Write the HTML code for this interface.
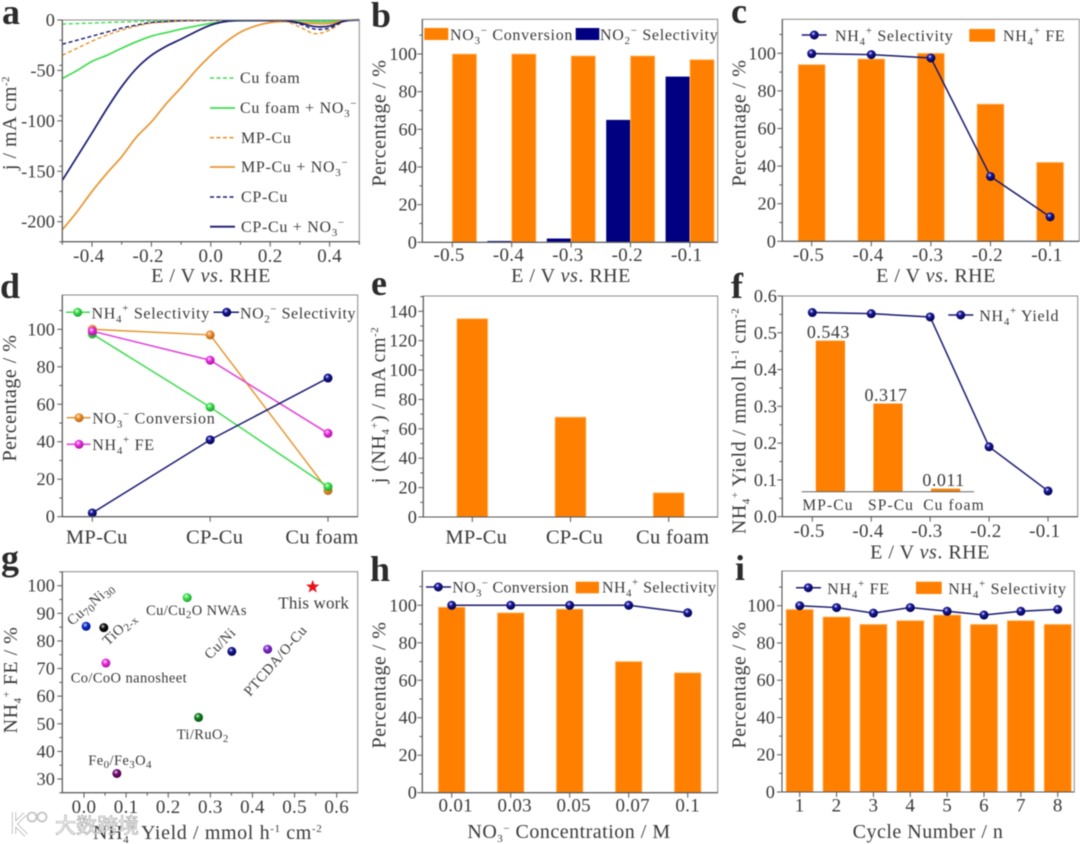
<!DOCTYPE html>
<html lang="en">
<head>
<meta charset="utf-8">
<title>Electrocatalysis multi-panel figure</title>
<style>
html,body{margin:0;padding:0;background:#fff;width:1080px;height:844px;overflow:hidden}
svg{display:block;filter:blur(.45px)}
text{font-family:"Liberation Serif","Noto Sans CJK SC",serif;fill:#3a3a3a;white-space:pre}
.letter{font-size:36px;font-weight:bold;fill:#2b2b2b}
.tick{font-size:19px;letter-spacing:.3px}
.ytick{font-size:18.3px;letter-spacing:.1px}
.ttl{font-size:20px;letter-spacing:.5px}
.leg{font-size:16px;letter-spacing:.7px}
.lab{font-size:14.5px;letter-spacing:.4px}
.s{font-size:11px}
.i{font-style:italic}
.wm{font-family:"Noto Sans CJK SC","Liberation Sans",sans-serif;font-size:21px;fill:#fff;fill-opacity:.9;stroke:#999;stroke-width:.6px}
</style>
</head>
<body>
<svg xmlns="http://www.w3.org/2000/svg" width="1080" height="844" viewBox="0 0 1080 844">
<defs>
<radialGradient id="s-navy" cx=".4" cy=".35" r=".65"><stop offset="0" stop-color="#dfe0ff"/><stop offset=".35" stop-color="#1a1a9a"/><stop offset="1" stop-color="#00004d"/></radialGradient>
<radialGradient id="s-green" cx=".4" cy=".35" r=".65"><stop offset="0" stop-color="#e8ffe8"/><stop offset=".4" stop-color="#3fe04f"/><stop offset="1" stop-color="#18a028"/></radialGradient>
<radialGradient id="s-orange" cx=".4" cy=".35" r=".65"><stop offset="0" stop-color="#ffeedd"/><stop offset=".4" stop-color="#ee9030"/><stop offset="1" stop-color="#b86010"/></radialGradient>
<radialGradient id="s-magenta" cx=".4" cy=".35" r=".65"><stop offset="0" stop-color="#ffe8ff"/><stop offset=".4" stop-color="#ee30e0"/><stop offset="1" stop-color="#a810a0"/></radialGradient>
<radialGradient id="s-blue" cx=".4" cy=".35" r=".65"><stop offset="0" stop-color="#dde"/><stop offset=".4" stop-color="#1030d0"/><stop offset="1" stop-color="#001080"/></radialGradient>
<radialGradient id="s-black" cx=".4" cy=".35" r=".65"><stop offset="0" stop-color="#ddd"/><stop offset=".4" stop-color="#111"/><stop offset="1" stop-color="#000"/></radialGradient>
<radialGradient id="s-lime" cx=".4" cy=".35" r=".65"><stop offset="0" stop-color="#e8ffe8"/><stop offset=".4" stop-color="#40e050"/><stop offset="1" stop-color="#20a030"/></radialGradient>
<radialGradient id="s-violet" cx=".4" cy=".35" r=".65"><stop offset="0" stop-color="#f0e0ff"/><stop offset=".4" stop-color="#8030d0"/><stop offset="1" stop-color="#501090"/></radialGradient>
<radialGradient id="s-forest" cx=".4" cy=".35" r=".65"><stop offset="0" stop-color="#d8f0d8"/><stop offset=".4" stop-color="#108020"/><stop offset="1" stop-color="#005010"/></radialGradient>
<radialGradient id="s-plum" cx=".4" cy=".35" r=".65"><stop offset="0" stop-color="#f0d8f0"/><stop offset=".4" stop-color="#701070"/><stop offset="1" stop-color="#400040"/></radialGradient>
</defs>
<rect width="1080" height="844" fill="#fff"/>

<g id="panel-a">
<g id="marks-a"></g>
<text class="letter" x="2" y="24">a</text>
<text class="ttl" transform="translate(16,123) rotate(-90)" text-anchor="middle">j / mA cm<tspan class="s" dy="-7">-2</tspan></text>
<text class="ttl" x="211" y="282" text-anchor="middle">E / V <tspan class="i">vs</tspan>. RHE</text>
<g fill="none">
<line x1="210" x2="235" y1="78" y2="78" stroke="#3fdc4f" stroke-width="1.6" stroke-dasharray="4 2.5"/>
<line x1="210" x2="235" y1="108" y2="108" stroke="#3fdc4f" stroke-width="1.8"/>
<line x1="210" x2="235" y1="137.7" y2="137.7" stroke="#e8952f" stroke-width="1.6" stroke-dasharray="4 2.5"/>
<line x1="210" x2="235" y1="167" y2="167" stroke="#e8952f" stroke-width="1.8"/>
<line x1="210" x2="235" y1="197" y2="197" stroke="#1a1a70" stroke-width="1.6" stroke-dasharray="4 2.5"/>
<line x1="210" x2="235" y1="226.7" y2="226.7" stroke="#1a1a70" stroke-width="1.8"/>
</g>
<text class="leg" x="240" y="83">Cu foam</text>
<text class="leg" x="240" y="113">Cu foam + NO<tspan class="s" dy="4">3</tspan><tspan class="s" dy="-10">−</tspan></text>
<text class="leg" x="241" y="143">MP-Cu</text>
<text class="leg" x="241" y="172">MP-Cu + NO<tspan class="s" dy="4">3</tspan><tspan class="s" dy="-10">−</tspan></text>
<text class="leg" x="241" y="202">CP-Cu</text>
<text class="leg" x="241" y="232">CP-Cu + NO<tspan class="s" dy="4">3</tspan><tspan class="s" dy="-10">−</tspan></text>
</g>

<g id="panel-b">
<g id="marks-b"></g>
<text class="letter" x="371" y="27">b</text>
<text class="ttl" transform="translate(385.5,123) rotate(-90)" text-anchor="middle">Percentage / %</text>
<text class="ttl" x="571" y="282" text-anchor="middle">E / V <tspan class="i">vs</tspan>. RHE</text>
<rect x="424.3" y="28" width="24" height="12" fill="#ff8000"/>
<text class="leg" x="450" y="40">NO<tspan class="s" dy="4">3</tspan><tspan class="s" dy="-10">−</tspan><tspan dy="6"> Conversion</tspan></text>
<rect x="575.7" y="28" width="23.6" height="12" fill="#000080"/>
<text class="leg" x="600" y="40">NO<tspan class="s" dy="4">2</tspan><tspan class="s" dy="-10">−</tspan><tspan dy="6"> Selectivity</tspan></text>
</g>

<g id="panel-c">
<g id="marks-c"></g>
<text class="letter" x="731" y="23">c</text>
<text class="ttl" transform="translate(745.5,123) rotate(-90)" text-anchor="middle">Percentage / %</text>
<text class="ttl" x="936" y="282" text-anchor="middle">E / V <tspan class="i">vs</tspan>. RHE</text>
<line x1="801.7" x2="826.7" y1="35" y2="35" stroke="#1a1a70" stroke-width="1.5"/>
<circle cx="814.3" cy="35" r="4.5" fill="url(#s-navy)"/>
<text class="leg" x="835" y="41">NH<tspan class="s" dy="4">4</tspan><tspan class="s" dy="-11">+</tspan><tspan dy="7"> Selectivity</tspan></text>
<rect x="969.3" y="29" width="25.7" height="12.7" fill="#ff8000"/>
<text class="leg" x="1003" y="41">NH<tspan class="s" dy="4">4</tspan><tspan class="s" dy="-11">+</tspan><tspan dy="7"> FE</tspan></text>
</g>

<g id="panel-d">
<g id="marks-d"></g>
<text class="letter" x="0" y="298">d</text>
<text class="ttl" transform="translate(16,398) rotate(-90)" text-anchor="middle">Percentage / %</text>
<line x1="66" x2="90" y1="312.3" y2="312.3" stroke="#3fdc4f" stroke-width="1.5"/>
<circle cx="77.7" cy="312.3" r="4.5" fill="url(#s-green)"/>
<text class="leg" x="91.5" y="318.5">NH<tspan class="s" dy="4">4</tspan><tspan class="s" dy="-11">+</tspan><tspan dy="7"> Selectivity</tspan></text>
<line x1="213.5" x2="239" y1="312.3" y2="312.3" stroke="#1a1a70" stroke-width="1.5"/>
<circle cx="226.7" cy="312.3" r="4.5" fill="url(#s-navy)"/>
<text class="leg" style="letter-spacing:.55px" x="240" y="318.5">NO<tspan class="s" dy="4">2</tspan><tspan class="s" dy="-10">−</tspan><tspan dy="6"> Selectivity</tspan></text>
<line x1="66.7" x2="90.5" y1="417.7" y2="417.7" stroke="#e8952f" stroke-width="1.5"/>
<circle cx="79" cy="417.7" r="4.5" fill="url(#s-orange)"/>
<text class="leg" x="92.3" y="423.5">NO<tspan class="s" dy="4">3</tspan><tspan class="s" dy="-10">−</tspan><tspan dy="6"> Conversion</tspan></text>
<line x1="66.7" x2="90.5" y1="444.3" y2="444.3" stroke="#e040d8" stroke-width="1.5"/>
<circle cx="79" cy="444.3" r="4.5" fill="url(#s-magenta)"/>
<text class="leg" x="92.3" y="450">NH<tspan class="s" dy="4">4</tspan><tspan class="s" dy="-11">+</tspan><tspan dy="7"> FE</tspan></text>
</g>

<g id="panel-e">
<g id="marks-e"></g>
<text class="letter" x="371" y="295">e</text>
<text class="ttl" transform="translate(385,405) rotate(-90)" text-anchor="middle">j (NH<tspan class="s" dy="4">4</tspan><tspan class="s" dy="-11">+</tspan><tspan dy="7">) / mA cm</tspan><tspan class="s" dy="-7">-2</tspan></text>
</g>

<g id="panel-f">
<g id="marks-f"></g>
<text class="letter" x="731" y="298">f</text>
<text class="ttl" transform="translate(745.5,421) rotate(-90)" text-anchor="middle">NH<tspan class="s" dy="4">4</tspan><tspan class="s" dy="-11">+</tspan><tspan dy="7"> Yield / mmol h</tspan><tspan class="s" dy="-7">-1</tspan><tspan dy="7"> cm</tspan><tspan class="s" dy="-7">-2</tspan></text>
<text class="ttl" x="930" y="558.5" text-anchor="middle">E / V <tspan class="i">vs</tspan>. RHE</text>
<line x1="948.3" x2="973.3" y1="315" y2="315" stroke="#1a1a70" stroke-width="1.5"/>
<circle cx="960.7" cy="315" r="4.5" fill="url(#s-navy)"/>
<text class="leg" x="979.3" y="321">NH<tspan class="s" dy="4">4</tspan><tspan class="s" dy="-11">+</tspan><tspan dy="7"> Yield</tspan></text>
</g>

<g id="panel-g">
<g id="marks-g"></g>
<text class="letter" x="1" y="570">g</text>
<text class="ttl" transform="translate(17,680) rotate(-90)" text-anchor="middle">NH<tspan class="s" dy="4">4</tspan><tspan class="s" dy="-11">+</tspan><tspan dy="7"> FE / %</tspan></text>
<text class="ttl" style="letter-spacing:.62px" x="93" y="839">NH<tspan class="s" dy="4">4</tspan><tspan class="s" dy="-11">+</tspan><tspan dy="7"> Yield / mmol h</tspan><tspan class="s" dy="-7">-1</tspan><tspan dy="7"> cm</tspan><tspan class="s" dy="-7">-2</tspan></text>
<text class="lab" transform="translate(72,626) rotate(-41)">Cu<tspan class="s" dy="3">70</tspan><tspan dy="-3">Ni</tspan><tspan class="s" dy="3">30</tspan></text>
<text class="lab" transform="translate(108,646) rotate(-43)">TiO<tspan class="s" dy="3">2-x</tspan></text>
<text class="lab" x="70.7" y="682.3">Co/CoO nanosheet</text>
<text class="lab" x="146" y="615">Cu/Cu<tspan class="s" dy="3">2</tspan><tspan dy="-3">O NWAs</tspan></text>
<text class="ttl" style="font-size:17px;letter-spacing:.15px" x="278.3" y="608.3">This work</text>
<text class="lab" transform="translate(210,660) rotate(-45)">Cu/Ni</text>
<text class="lab" transform="translate(250,697) rotate(-49)">PTCDA/O-Cu</text>
<text class="lab" x="176.7" y="739">Ti/RuO<tspan class="s" dy="3">2</tspan></text>
<text class="lab" x="88.3" y="765">Fe<tspan class="s" dy="3">0</tspan><tspan dy="-3">/Fe</tspan><tspan class="s" dy="3">3</tspan><tspan dy="-3">O</tspan><tspan class="s" dy="3">4</tspan></text>
</g>

<g id="panel-h">
<g id="marks-h"></g>
<text class="letter" x="370" y="581">h</text>
<text class="ttl" transform="translate(385.5,685) rotate(-90)" text-anchor="middle">Percentage / %</text>
<text class="ttl" x="569" y="838" text-anchor="middle">NO<tspan class="s" dy="4">3</tspan><tspan class="s" dy="-10">−</tspan><tspan dy="6"> Concentration / M</tspan></text>
<line x1="426" x2="451" y1="587" y2="587" stroke="#1a1a70" stroke-width="1.5"/>
<circle cx="438.3" cy="587" r="4.5" fill="url(#s-navy)"/>
<text class="leg" style="letter-spacing:.28px" x="452.3" y="592.5">NO<tspan class="s" dy="4">3</tspan><tspan class="s" dy="-10">−</tspan><tspan dy="6"> Conversion</tspan></text>
<rect x="575.7" y="581.7" width="23.3" height="11.6" fill="#ff8000"/>
<text class="leg" style="letter-spacing:.45px" x="602" y="592.5">NH<tspan class="s" dy="4">4</tspan><tspan class="s" dy="-11">+</tspan><tspan dy="7"> Selectivity</tspan></text>
</g>

<g id="panel-i">
<g id="marks-i"></g>
<text class="letter" x="735" y="580">i</text>
<text class="ttl" transform="translate(745.5,685) rotate(-90)" text-anchor="middle">Percentage / %</text>
<text class="ttl" x="928" y="838" text-anchor="middle">Cycle Number / n</text>
<line x1="796" x2="821" y1="587.7" y2="587.7" stroke="#1a1a70" stroke-width="1.5"/>
<circle cx="808.3" cy="587.7" r="4.5" fill="url(#s-navy)"/>
<text class="leg" x="827.3" y="594">NH<tspan class="s" dy="4">4</tspan><tspan class="s" dy="-11">+</tspan><tspan dy="7"> FE</tspan></text>
<rect x="916" y="581.7" width="25.7" height="12.3" fill="#ff8000"/>
<text class="leg" x="948.3" y="594">NH<tspan class="s" dy="4">4</tspan><tspan class="s" dy="-11">+</tspan><tspan dy="7"> Selectivity</tspan></text>
</g>

<g>
<path d="M14 812 L14 834 M15 824 L25 814 M15 824 L26 835" fill="none" stroke="#aaa" stroke-width="4.2"/>
<path d="M14 812 L14 834 M15 824 L25 814 M15 824 L26 835" fill="none" stroke="#fff" stroke-width="2.8"/>
<circle cx="32" cy="817" r="4.5" fill="none" stroke="#c4c4c4" stroke-width="1.8"/>
<circle cx="42" cy="817" r="4.5" fill="none" stroke="#c4c4c4" stroke-width="1.8"/>
<text class="wm" x="55" y="833">大数跨境</text>
</g>
</svg>

<script>
// Panel a: polarization curves (potential in V, current density in mA/cm2)
const aPotentials = [-0.5,-0.45,-0.4,-0.35,-0.3,-0.25,-0.2,-0.15,-0.1,-0.05,0,0.05,0.1,0.15,0.2,0.25,0.3,0.35,0.4,0.45,0.5];
const aCuFoam = [-4,-3.5,-3,-2.5,-2,-1.5,-1,-0.8,-0.5,-0.4,-0.3,-0.3,-0.3,-0.3,-0.3,-0.3,-0.5,-0.8,-1,-0.3,0];
const aCuFoamNO3 = [-58,-50,-41,-35,-28,-21.5,-16,-12.5,-9,-6,-3.3,-1.5,-0.8,-0.6,-0.5,-0.5,-0.5,-1.5,-1.5,-0.3,0];
const aMpCu = [-35,-28,-21,-15,-10,-6,-3,-2,-1,-0.7,-0.4,-0.3,-0.3,-0.4,-0.6,-1,-7,-13.5,-10,-1.5,0];
const aMpCuNO3 = [-208,-190,-170,-152,-135.5,-116,-101,-83,-67,-50,-35,-22,-12,-6,-2.5,-1.5,-2.5,-3.5,-3.5,-0.5,0];
const aCpCu = [-24,-20,-16,-12,-8,-5,-2.5,-1.5,-0.8,-0.5,-0.3,-0.3,-0.3,-0.3,-0.4,-0.6,-4,-9,-8,-1,0];
const aCpCuNO3 = [-159,-135.5,-112,-88,-66,-48,-35,-26,-19,-11.5,-5,-1.5,-0.5,-0.5,-0.5,-0.5,-3,-6.5,-6,-1,0];
const aXTicks = [-0.5,-0.4,-0.3,-0.2,-0.1,0,0.1,0.2,0.3,0.4,0.5];
const aXLabels = ["-0.4","-0.2","0.0","0.2","0.4"];
const aXLabelValues = [-0.4,-0.2,0,0.2,0.4];
const aYTicks = [0,-50,-100,-150,-200];

// Panel b
const bCategories = ["-0.5","-0.4","-0.3","-0.2","-0.1"];
const bNO2Selectivity = [0,0.7,2,65,88];
const bNO3Conversion = [100,100,99,99,97];

// Panel c
const cCategories = ["-0.5","-0.4","-0.3","-0.2","-0.1"];
const cNH4FE = [94,97,100,73,42];
const cNH4Selectivity = [99.8,99.3,97.5,34.5,13];

// Panel d
const dCategories = ["MP-Cu","CP-Cu","Cu foam"];
const dNH4Selectivity = [97.5,58.5,16];
const dNO2Selectivity = [2,41,74];
const dNO3Conversion = [100,97,14];
const dNH4FE = [99,83.5,44.5];

// Panel e
const eCategories = ["MP-Cu","CP-Cu","Cu foam"];
const eCurrent = [135,68,16.5];
const eYTicks = [0,20,40,60,80,100,120,140];

// Panel f
const fCategories = ["-0.5","-0.4","-0.3","-0.2","-0.1"];
const fYield = [0.555,0.552,0.543,0.19,0.07];
const fYTicks = [0,0.1,0.2,0.3,0.4,0.5,0.6];
const fYLabels = ["0.0","0.1","0.2","0.3","0.4","0.5","0.6"];
const fInsetCategories = ["MP-Cu","SP-Cu","Cu foam"];
const fInsetValues = [0.543,0.317,0.011];
const fInsetPrinted = ["0.543","0.317","0.011"];

// Panel g
const gYields = [0.005,0.047,0.052,0.245,0.351,0.436,0.272,0.078];
const gFEs = [85.3,84.8,72,95.7,76.2,77,52.3,32];
const gThisWorkYield = [0.543];
const gThisWorkFE = [99.6];
const gXTicks = [0,0.1,0.2,0.3,0.4,0.5,0.6];
const gXLabels = ["0.0","0.1","0.2","0.3","0.4","0.5","0.6"];
const gYTicks = [30,40,50,60,70,80,90,100];
const gPointNames = ["cu70ni30","tio2","co-coo","cu-cu2o","cu-ni","ptcda","ti-ruo2","fe-fe3o4"];
const gPointFills = ["s-blue","s-black","s-magenta","s-lime","s-navy","s-violet","s-forest","s-plum"];

// Panel h
const hCategories = ["0.01","0.03","0.05","0.07","0.1"];
const hNH4Selectivity = [99,96,98,70,64];
const hNO3Conversion = [100,100,100,100,96];

// Panel i
const iCategories = ["1","2","3","4","5","6","7","8"];
const iNH4Selectivity = [98,94,90,92,95,90,92,90];
const iNH4FE = [100,99,96,99,97,95,97,98];

const pctTicks = [0,20,40,60,80,100];

const NS = 'http://www.w3.org/2000/svg';
const BAR = '#ff8000', NAVYBAR = '#000080', NAVY = '#1a1a70', GREEN = '#3fdc4f', ORANGE = '#e8952f', MAGENTA = '#e040d8';

function add(parent, tag, attrs) {
  const el = document.createElementNS(NS, tag);
  for (const k in attrs) el.setAttribute(k, attrs[k]);
  parent.appendChild(el);
  return el;
}
function linear(d0, d1, r0, r1) {
  return v => r0 + (v - d0) * (r1 - r0) / (d1 - d0);
}
function catScale(first, step) {
  return i => first + i * step;
}
function drawFrame(g, box) {
  const f = add(g, 'rect', {x: box.l, y: box.t, width: box.r - box.l, height: box.b - box.t, fill: 'none', stroke: '#8a8a8a', 'stroke-width': 1});
  
  
  const ya = add(g, 'line', {x1: box.l, x2: box.l, y1: box.t, y2: box.b, stroke: '#555', 'stroke-width': 1.1});
  
  
  const xa = add(g, 'line', {x1: box.l, x2: box.r, y1: box.b, y2: box.b, stroke: '#555', 'stroke-width': 1.1});
  
  
}
function yTick(g, box, py, len) {
  const t = add(g, 'line', {x1: box.l - len, x2: box.l, y1: py, y2: py, stroke: '#555', 'stroke-width': 1});
  
  
}
function xTick(g, box, px, len) {
  const t = add(g, 'line', {x1: px, x2: px, y1: box.b, y2: box.b + len, stroke: '#555', 'stroke-width': 1});
  
  
}
function yAxis(g, box, y, ticks, labels, labelEnd, minorStep, minLimit, maxLimit) {
  ticks.forEach((v, i) => {
    yTick(g, box, y(v), 5);
    const t = add(g, 'text', {x: labelEnd, y: y(v) + 6, 'text-anchor': 'end', class: 'ytick'});
    
    
    t.textContent = labels ? labels[i] : String(v);
  });
  for (let v = minLimit; v <= maxLimit + 1e-9; v += minorStep) {
    if (!ticks.some(k => Math.abs(k - v) < 1e-9)) yTick(g, box, y(v), 3);
  }
}
function xLabels(g, positions, labels, baseline, size) {
  labels.forEach((s, i) => {
    const shift = s.charAt(0) === '-' ? -3.2 : 0;
    const t = add(g, 'text', {x: positions[i] + shift, y: baseline, 'text-anchor': 'middle', class: 'tick', style: 'font-size:' + size + 'px'});
    
    
    t.textContent = s;
  });
}
function drawBars(g, x, y, values, width, offset, fill, name, zero) {
  values.forEach((v, i) => {
    const b = add(g, 'rect', {x: x(i) + offset, y: y(v), width: width, height: Math.max(0, y(zero) - y(v)), fill: fill,
      stroke: fill === BAR ? '#ffc888' : 'none', 'stroke-width': 0.8});
    
    
  });
}
function drawLine(g, x, y, values, stroke, fill, name) {
  const pts = values.map((v, i) => x(i) + ',' + y(v)).join(' ');
  const p = add(g, 'polyline', {points: pts, fill: 'none', stroke: stroke, 'stroke-width': 1.5});
  
  
  values.forEach((v, i) => {
    const c = add(g, 'circle', {cx: x(i), cy: y(v), r: 4.5, fill: 'url(#' + fill + ')'});
    
    
  });
}
function curve(g, x, y, xs, ys, stroke, dash, name) {
  const P = xs.map((v, i) => [x(v), y(ys[i])]);
  let d = 'M' + P[0][0] + ' ' + P[0][1];
  for (let i = 0; i < P.length - 1; i++) {
    const p0 = P[Math.max(0, i - 1)], p1 = P[i], p2 = P[i + 1], p3 = P[Math.min(P.length - 1, i + 2)];
    const c1x = p1[0] + (p2[0] - p0[0]) / 6, c1y = p1[1] + (p2[1] - p0[1]) / 6;
    const c2x = p2[0] - (p3[0] - p1[0]) / 6, c2y = p2[1] - (p3[1] - p1[1]) / 6;
    d += ' C' + c1x + ' ' + c1y + ' ' + c2x + ' ' + c2y + ' ' + p2[0] + ' ' + p2[1];
  }
  const attrs = {d: d, fill: 'none', stroke: stroke, 'stroke-width': dash ? 1.4 : 1.7, 'stroke-linejoin': 'round'};
  if (dash) attrs['stroke-dasharray'] = '4 2.5';
  const p = add(g, 'path', attrs);
  
  
}
function indexPositions(x, arr) {
  return arr.map((_, i) => x(i));
}

/* Panel a */
(function () {
  const g = document.getElementById('marks-a');
  const box = {l: 62.3, r: 359.3, t: 20, b: 241.7};
  const x = linear(-0.5, 0.5, box.l, box.r);
  const y = linear(0, -200, 20, 221.7);
  curve(g, x, y, aPotentials, aCuFoam, GREEN, true, 'cu-foam');
  curve(g, x, y, aPotentials, aCuFoamNO3, GREEN, false, 'cu-foam-no3');
  curve(g, x, y, aPotentials, aMpCu, ORANGE, true, 'mp-cu');
  curve(g, x, y, aPotentials, aMpCuNO3, ORANGE, false, 'mp-cu-no3');
  curve(g, x, y, aPotentials, aCpCu, NAVY, true, 'cp-cu');
  curve(g, x, y, aPotentials, aCpCuNO3, NAVY, false, 'cp-cu-no3');
  drawFrame(g, box);
  yAxis(g, box, y, aYTicks, null, 55, 25, -220, 0);
  aXTicks.forEach(v => xTick(g, box, x(v), aXLabelValues.some(k => Math.abs(k - v) < 1e-9) ? 5 : 3));
  xLabels(g, aXLabelValues.map(x), aXLabels, 262, 19);
})();

/* Panel b */
(function () {
  const g = document.getElementById('marks-b');
  const box = {l: 422.3, r: 717.7, t: 19.3, b: 242.3};
  const x = catScale(452.3, 59.4);
  const y = linear(0, 100, 242.3, 54);
  drawBars(g, x, y, bNO2Selectivity, 24.3, -24.3, NAVYBAR, 'no2-selectivity', 0);
  drawBars(g, x, y, bNO3Conversion, 24.3, 0, BAR, 'no3-conversion', 0);
  drawFrame(g, box);
  yAxis(g, box, y, pctTicks, null, 417, 10, 0, 110);
  bCategories.forEach((_, i) => xTick(g, box, x(i), 5));
  xLabels(g, indexPositions(x, bCategories), bCategories, 261, 19);
})();

/* Panel c */
(function () {
  const g = document.getElementById('marks-c');
  const box = {l: 782.3, r: 1079.3, t: 19.3, b: 241.3};
  const x = catScale(811.7, 59.6);
  const y = linear(0, 100, 241.3, 53.3);
  drawBars(g, x, y, cNH4FE, 27, -13.5, BAR, 'nh4-fe', 0);
  drawLine(g, x, y, cNH4Selectivity, NAVY, 's-navy', 'nh4-selectivity');
  drawFrame(g, box);
  yAxis(g, box, y, pctTicks, null, 776, 10, 0, 110);
  cCategories.forEach((_, i) => xTick(g, box, x(i), 5));
  xLabels(g, indexPositions(x, cCategories), cCategories, 261, 19);
})();

/* Panel d */
(function () {
  const g = document.getElementById('marks-d');
  const box = {l: 62.3, r: 357.7, t: 295, b: 516.7};
  const x = catScale(92.3, 117.85);
  const y = linear(0, 100, 516.7, 329.3);
  drawLine(g, x, y, dNO3Conversion, ORANGE, 's-orange', 'no3-conversion');
  drawLine(g, x, y, dNH4Selectivity, GREEN, 's-green', 'nh4-selectivity');
  drawLine(g, x, y, dNH4FE, MAGENTA, 's-magenta', 'nh4-fe');
  drawLine(g, x, y, dNO2Selectivity, NAVY, 's-navy', 'no2-selectivity');
  drawFrame(g, box);
  yAxis(g, box, y, pctTicks, null, 55, 10, 0, 110);
  dCategories.forEach((_, i) => xTick(g, box, x(i), 5));
  xLabels(g, indexPositions(x, dCategories).map((p, i) => p + (i === 2 ? -6 : 4.5)), dCategories, 543.5, 20.5);
})();

/* Panel e */
(function () {
  const g = document.getElementById('marks-e');
  const box = {l: 423.3, r: 717.7, t: 296, b: 517};
  const x = catScale(472.3, 98.2);
  const y = linear(0, 140, 517, 311.3);
  drawBars(g, x, y, eCurrent, 31, -15.5, BAR, 'partial-current', 0);
  drawFrame(g, box);
  yAxis(g, box, y, eYTicks, null, 417, 10, 0, 150);
  eCategories.forEach((_, i) => xTick(g, box, x(i), 5));
  xLabels(g, indexPositions(x, eCategories).map(p => p + 4), eCategories, 543.5, 20.5);
})();

/* Panel f */
(function () {
  const g = document.getElementById('marks-f');
  const box = {l: 782.3, r: 1077.7, t: 296, b: 516.7};
  const x = catScale(812.3, 58.93);
  const y = linear(0, 0.6, 516.7, 296);
  drawFrame(g, box);
  yAxis(g, box, y, fYTicks, fYLabels, 777, 0.05, 0, 0.6);
  fCategories.forEach((_, i) => xTick(g, box, x(i), 5));
  xLabels(g, indexPositions(x, fCategories), fCategories, 537, 19);

  const ix = catScale(830.4, 57.6);
  const lx = catScale(828, 63);
  const iy = linear(0, 0.543, 491.7, 340.7);
  fInsetValues.forEach((v, i) => {
    const b = add(g, 'rect', {x: ix(i) - 14.6, y: iy(v), width: 29.2, height: iy(0) - iy(v), fill: BAR});
    
    
    const t = add(g, 'text', {x: ix(i) - 2, y: iy(v) - 2.5, 'text-anchor': 'middle', class: 'leg', style: 'font-size:18px;letter-spacing:.5px'});
    
    
    t.textContent = fInsetPrinted[i];
    const c = add(g, 'text', {x: lx(i), y: 510, 'text-anchor': 'middle', class: 'lab', style: 'font-size:15.5px;letter-spacing:1.1px'});
    
    
    c.textContent = fInsetCategories[i];
  });
  const ia = add(g, 'line', {x1: 801.7, x2: 974, y1: 491.7, y2: 491.7, stroke: '#666', 'stroke-width': 1});
  
  
  drawLine(g, x, y, fYield, NAVY, 's-navy', 'nh4-yield');
})();

/* Panel g */
(function () {
  const g = document.getElementById('marks-g');
  const box = {l: 62.3, r: 357.7, t: 571.7, b: 792.7};
  const x = linear(0, 0.6, 84, 336.7);
  const y = linear(30, 100, 779, 585.7);
  drawFrame(g, box);
  yAxis(g, box, y, gYTicks, null, 55, 5, 25, 105);
  gXTicks.forEach(v => xTick(g, box, x(v), 5));
  [0.05,0.15,0.25,0.35,0.45,0.55].forEach(v => xTick(g, box, x(v), 3));
  xLabels(g, gXTicks.map(x), gXLabels, 813, 19);
  gYields.forEach((v, i) => {
    const c = add(g, 'circle', {cx: x(v), cy: y(gFEs[i]), r: 4.5, fill: 'url(#' + gPointFills[i] + ')'});
    
    
  });
  const cx = x(gThisWorkYield[0]), cy = y(gThisWorkFE[0]);
  const pts = [];
  for (let k = 0; k < 10; k++) {
    const r = k % 2 ? 2.9 : 7;
    const a = -Math.PI / 2 + k * Math.PI / 5;
    pts.push((cx + r * Math.cos(a)) + ',' + (cy + r * Math.sin(a)));
  }
  const star = add(g, 'polygon', {points: pts.join(' '), fill: '#e8141c'});
  
  
})();

/* Panel h */
(function () {
  const g = document.getElementById('marks-h');
  const box = {l: 422.3, r: 717.7, t: 571, b: 792.7};
  const x = catScale(451.7, 59);
  const y = linear(0, 100, 792.7, 605.3);
  drawBars(g, x, y, hNH4Selectivity, 26.7, -13.35, BAR, 'nh4-selectivity', 0);
  drawLine(g, x, y, hNO3Conversion, NAVY, 's-navy', 'no3-conversion');
  drawFrame(g, box);
  yAxis(g, box, y, pctTicks, null, 417, 10, 0, 110);
  hCategories.forEach((_, i) => xTick(g, box, x(i), 5));
  xLabels(g, indexPositions(x, hCategories).map((p, i) => p + (i < 4 ? 4 : 0)), hCategories, 811.7, 19);
})();

/* Panel i */
(function () {
  const g = document.getElementById('marks-i');
  const box = {l: 782, r: 1074.3, t: 571, b: 792};
  const x = catScale(799.7, 36.86);
  const y = linear(0, 100, 792, 605.7);
  drawBars(g, x, y, iNH4Selectivity, 27.3, -13.65, BAR, 'nh4-selectivity', 0);
  drawLine(g, x, y, iNH4FE, NAVY, 's-navy', 'nh4-fe');
  drawFrame(g, box);
  yAxis(g, box, y, pctTicks, null, 775, 10, 0, 110);
  iCategories.forEach((_, i) => xTick(g, box, x(i), 5));
  xLabels(g, indexPositions(x, iCategories), iCategories, 811.7, 19);
})();
</script>
</body>
</html>
